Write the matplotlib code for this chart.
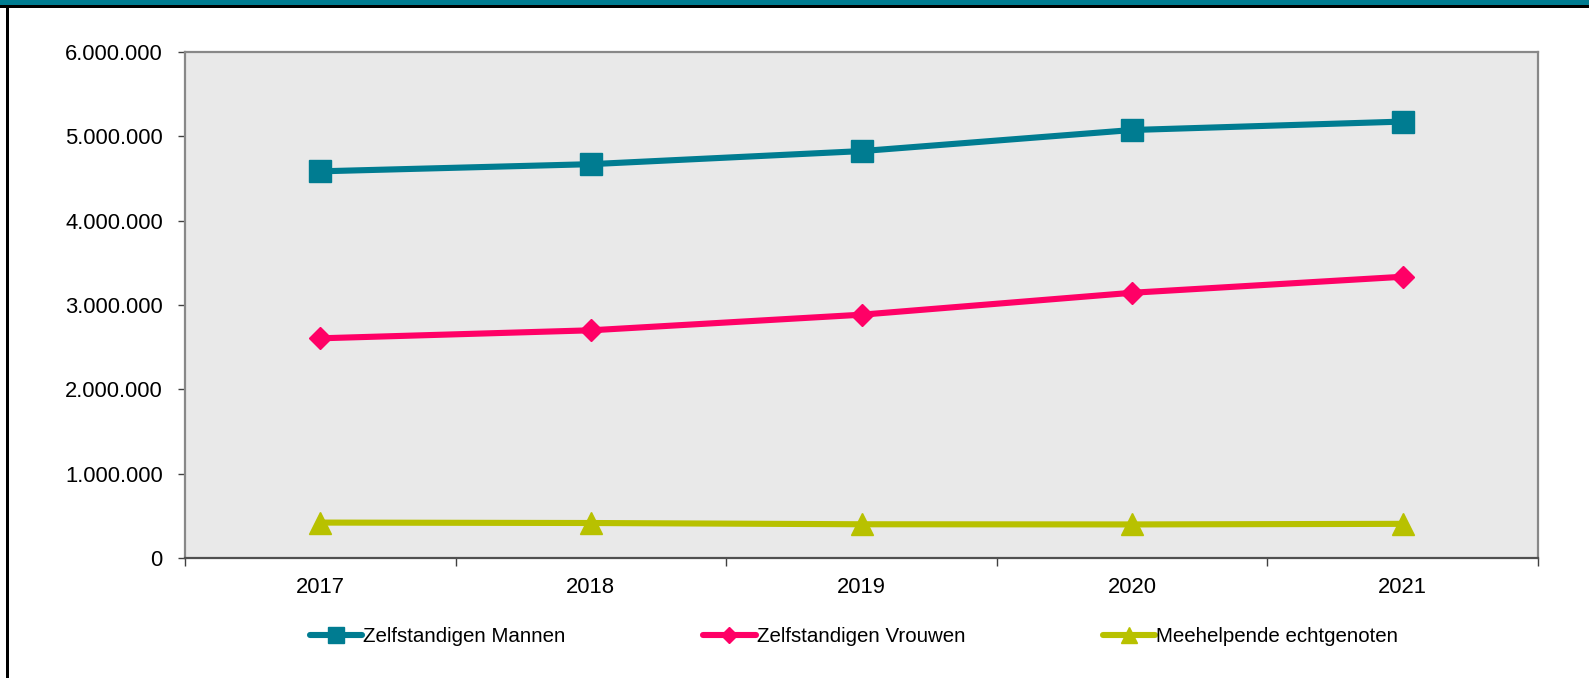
import matplotlib
matplotlib.use("Agg")
import matplotlib.pyplot as plt
from matplotlib.ticker import FuncFormatter, FixedLocator
from matplotlib.patches import Rectangle

years = ["2017", "2018", "2019", "2020", "2021"]
mannen = [4585000, 4670000, 4825000, 5075000, 5175000]
vrouwen = [2605000, 2700000, 2885000, 3145000, 3335000]
meehelpende = [420000, 415000, 400000, 398000, 405000]
series_names = ["Zelfstandigen Mannen", "Zelfstandigen Vrouwen", "Meehelpende echtgenoten"]
colors = ["#007C91", "#FF0066", "#B8C100"]
markers = ["s", "D", "^"]
msizes = [15.5, 11, 15.5]

plt.rcParams['font.family'] = ['Liberation Sans', 'DejaVu Sans']

W, H = 1589, 678
fig = plt.figure(figsize=(W / 100, H / 100), dpi=100)
fig.patch.set_facecolor("white")

# frame decorations
fig.add_artist(Rectangle((0, 1 - 5.5 / H), 1, 5.5 / H, transform=fig.transFigure,
                         facecolor="#007C91", edgecolor="none", zorder=10))
fig.add_artist(Rectangle((0, 1 - 8 / H), 1, 2.5 / H, transform=fig.transFigure,
                         facecolor="black", edgecolor="none", zorder=10))
fig.add_artist(Rectangle((6 / W, 0), 3 / W, 1 - 5.5 / H, transform=fig.transFigure,
                         facecolor="black", edgecolor="none", zorder=10))

ax = fig.add_axes([185 / W, (H - 558) / H, 1353 / W, 506 / H])
ax.set_facecolor("#E9E9E9")

xs = [i + 0.5 for i in range(len(years))]
data = [mannen, vrouwen, meehelpende]
handles = []
for vals, name, c, m, ms in zip(data, series_names, colors, markers, msizes):
    h, = ax.plot(xs, vals, color=c, lw=4.4, marker=m, markersize=ms,
                 markeredgecolor=c, markerfacecolor=c, label=name,
                 solid_capstyle="round", clip_on=False, zorder=3)
    handles.append(h)

ax.set_xlim(0, len(years))
ax.set_ylim(0, 6000000)
ax.set_yticks(range(0, 6000001, 1000000))
ax.yaxis.set_major_formatter(FuncFormatter(lambda v, p: f"{int(v):,}".replace(",", ".")))
ax.xaxis.set_major_locator(FixedLocator(list(range(len(years) + 1))))
ax.xaxis.set_minor_locator(FixedLocator(xs))
ax.set_xticklabels([], minor=False)
ax.set_xticklabels(years, minor=True)

ax.tick_params(axis="y", direction="out", length=5, width=1, color="#404040",
               pad=11, labelsize=15.8, labelcolor="black")
ax.tick_params(axis="x", which="major", direction="out", length=6, width=1,
               color="#404040")
ax.tick_params(axis="x", which="minor", length=0, pad=14, labelsize=15.8,
               labelcolor="black")

for s in ["left", "top", "right"]:
    ax.spines[s].set_color("#888888")
    ax.spines[s].set_linewidth(1.6)
ax.spines["bottom"].set_color("#505050")
ax.spines["bottom"].set_linewidth(1.6)

fig.legend(handles=handles, loc="center", bbox_to_anchor=(854 / W, 1 - 637 / H),
           ncol=3, frameon=False, fontsize=14.8, handlelength=2.55,
           handletextpad=0.05, columnspacing=6.7, markerscale=0.75)

fig.savefig("out.png", dpi=100, facecolor="white")
